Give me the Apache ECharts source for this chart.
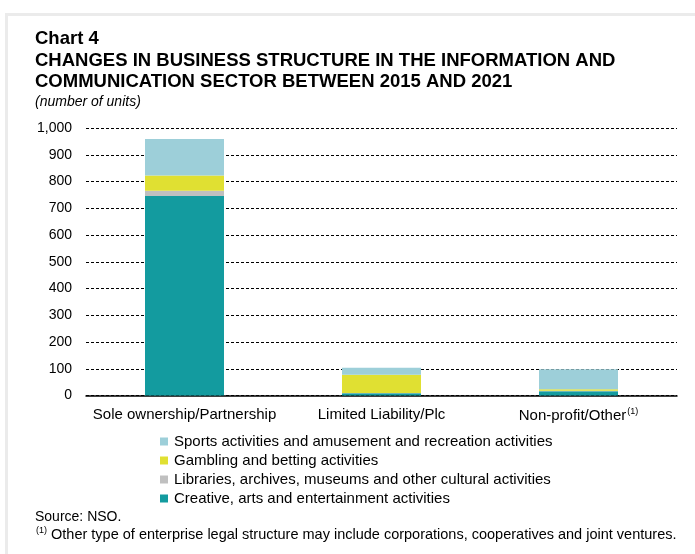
<!DOCTYPE html>
<html>
<head>
<meta charset="utf-8">
<script src="https://cdn.jsdelivr.net/npm/echarts@6/dist/echarts.min.js"></script>
<style>
  html, body { margin: 0; padding: 0; background: #ffffff; }
  #chart { width: 695px; height: 554px; }
</style>
</head>
<body>
<div id="chart"></div>
<script>
// Legal structure categories along the x axis
var categories = ['Sole ownership/Partnership', 'Limited Liability/Plc', 'Non-profit/Other'];

// Number of units by activity, stacked bottom to top
var creative = [746, 8, 16];
var libraries = [19, 1, 2];
var gambling = [57, 69, 5];
var sports = [137, 26, 75];

// Value axis ticks
var yTicks = [0, 100, 200, 300, 400, 500, 600, 700, 800, 900, 1000];

var seriesNames = [
  'Creative, arts and entertainment activities',
  'Libraries, archives, museums and other cultural activities',
  'Gambling and betting activities',
  'Sports activities and amusement and recreation activities'
];
var seriesColors = ['#139b9f', '#c0c0c0', '#e0e032', '#9dcfd9'];
var seriesData = [creative, libraries, gambling, sports];

var FONT = 'Liberation Sans, Arial, sans-serif';

var chart = echarts.init(document.getElementById('chart'));

var series = seriesData.map(function (d, i) {
  return {
    name: seriesNames[i],
    type: 'bar',
    stack: 'total',
    data: d,
    barWidth: 79,
    itemStyle: { color: seriesColors[i] },
    emphasis: { disabled: true }
  };
});

chart.setOption({
  animation: false,
  backgroundColor: '#ffffff',
  textStyle: { fontFamily: FONT },
  grid: { left: 86, right: 18, top: 128, bottom: 158.5, containLabel: false },
  xAxis: {
    type: 'category',
    data: categories,
    axisLine: { show: true, lineStyle: { color: '#000000', width: 1.5 } },
    axisTick: { show: false },
    axisLabel: {
      interval: 0,
      hideOverlap: false,
      color: '#000000',
      fontSize: 15,
      fontFamily: FONT,
      margin: 12,
      formatter: function (v) {
        return v === 'Non-profit/Other' ? v + '{sup|(1)}' : v;
      },
      rich: {
        sup: { fontSize: 9, verticalAlign: 'top', padding: [0, 0, 8, 1], color: '#000000', fontFamily: FONT }
      }
    }
  },
  yAxis: {
    type: 'value',
    min: yTicks[0],
    max: yTicks[yTicks.length - 1],
    interval: 100,
    axisLine: { show: false },
    axisTick: { show: false },
    splitLine: {
      show: true,
      lineStyle: { color: '#000000', width: 1, type: [3, 2] }
    },
    axisLabel: {
      color: '#000000',
      fontSize: 14,
      fontFamily: FONT,
      margin: 14,
      formatter: function (v) {
        return v.toString().replace(/\B(?=(\d{3})+(?!\d))/g, ',');
      }
    }
  },
  legend: {
    orient: 'vertical',
    left: 160,
    top: 434,
    padding: 0,
    itemWidth: 8,
    itemHeight: 8,
    itemGap: 4,
    icon: 'rect',
    data: seriesNames.slice().reverse(),
    textStyle: { color: '#000000', fontSize: 15, fontFamily: FONT, padding: [0, 0, 0, 1] },
    selectedMode: false
  },
  graphic: [
    { type: 'rect', shape: { x: 5, y: 13, width: 690, height: 3 }, style: { fill: '#ebebeb' }, silent: true },
    { type: 'rect', shape: { x: 5, y: 13, width: 3, height: 541 }, style: { fill: '#ebebeb' }, silent: true },
    { type: 'text', left: 35, top: 29, style: { text: 'Chart 4', font: 'bold 18.5px ' + FONT, fill: '#000000' } },
    { type: 'text', left: 35, top: 51, style: { text: 'CHANGES IN BUSINESS STRUCTURE IN THE INFORMATION AND', font: 'bold 18.5px ' + FONT, fill: '#000000' } },
    { type: 'text', left: 35, top: 72, style: { text: 'COMMUNICATION SECTOR BETWEEN 2015 AND 2021', font: 'bold 18.5px ' + FONT, fill: '#000000' } },
    { type: 'text', left: 35, top: 95, style: { text: '(number of units)', font: 'italic 14px ' + FONT, fill: '#000000' } },
    { type: 'text', left: 35, top: 510, style: { text: 'Source: NSO.', font: '14px ' + FONT, fill: '#000000' } },
    { type: 'text', left: 36, top: 526, style: {
        text: '{sup|(1)} Other type of enterprise legal structure may include corporations, cooperatives and joint ventures.',
        font: '14.5px ' + FONT, fill: '#000000',
        rich: { sup: { fontSize: 9, verticalAlign: 'top', padding: [0, 0, 8, 0], fill: '#000000', fontFamily: FONT } }
      } }
  ],
  series: series
});
</script>
</body>
</html>
